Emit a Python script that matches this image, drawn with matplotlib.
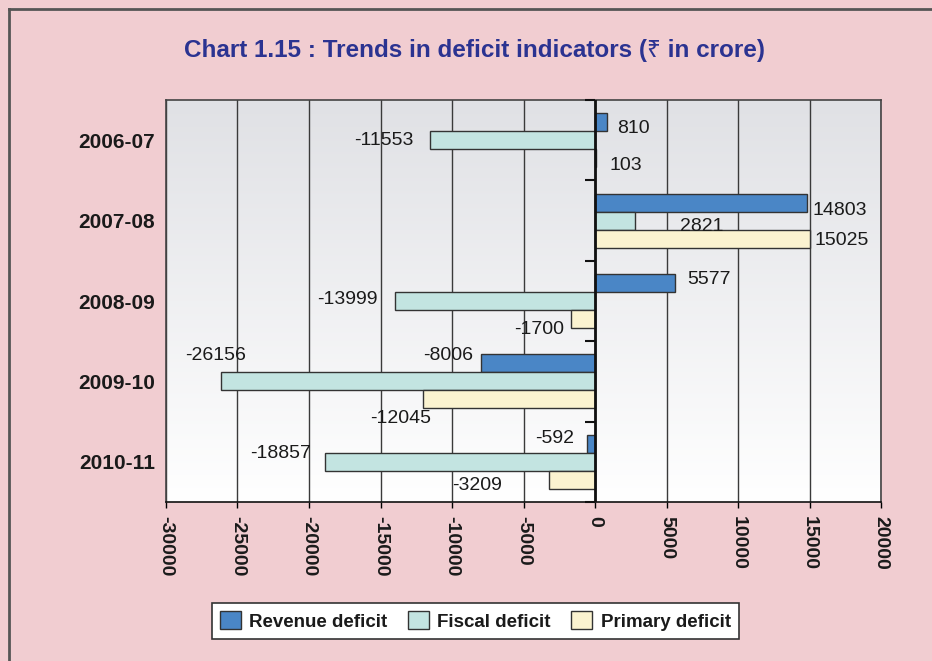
"""
Trends in deficit indicators, chart 1.15 (horizontal grouped bars).
"""

import matplotlib
import matplotlib.pyplot as plt
import numpy as np
from matplotlib.lines import Line2D

matplotlib.use("Agg")

# Data (Rs in crore)
years = ["2006-07", "2007-08", "2008-09", "2009-10", "2010-11"]
revenue_deficit = [810, 14803, 5577, -8006, -592]
fiscal_deficit = [-11553, 2821, -13999, -26156, -18857]
primary_deficit = [103, 15025, -1700, -12045, -3209]
x_ticks = list(range(-30000, 20001, 5000))

SERIES = [
    ("Revenue deficit", revenue_deficit, "#4a86c6"),
    ("Fiscal deficit", fiscal_deficit, "#c3e4e1"),
    ("Primary deficit", primary_deficit, "#fbf3d0"),
]

# label offsets in pixels (dx, dy) from the bar end, per series / year
LABEL_OFFSETS = [
    [(27, -6), (33, -8), (34, 3), (-32, 8), (-32, 5)],
    [(-46, 0), (66, -6), (-47, 2), (-5, 26), (-45, 8)],
    [(29, -7), (32, -2), (-32, -10), (-22, -19), (-72, -6)],
]

FONT = ["Liberation Sans", "Noto Sans", "DejaVu Sans"]
plt.rcParams["font.family"] = FONT

W, H = 932, 661
fig = plt.figure(figsize=(W / 100, H / 100), dpi=100)
fig.patch.set_facecolor("#f1cdd1")

# outer frame: only left and top edges show
fx, fy = 8.5 / W, 1 - 8.5 / H
fig.lines.append(Line2D([fx, fx], [0, fy], transform=fig.transFigure,
                        color="#555555", linewidth=2))
fig.lines.append(Line2D([fx, 1], [fy, fy], transform=fig.transFigure,
                        color="#555555", linewidth=2))

ax = fig.add_axes([166 / W, 1 - 502 / H, (881 - 166) / W, (502 - 100) / H])
ax.set_facecolor("white")

# gray-to-white gradient in the plot area
grad = np.linspace(0, 1, 256).reshape(-1, 1)
ax.imshow(grad, extent=[0, 1, 0, 1], transform=ax.transAxes, aspect="auto",
          cmap=matplotlib.colors.LinearSegmentedColormap.from_list(
              "g", ["#e0e1e5", "#ffffff"]), origin="upper", zorder=0)

y = np.arange(len(years))
h = 0.224
for k, (name, vals, col) in enumerate(SERIES):
    pos = y + (k - 1) * h
    ax.barh(pos, vals, height=h, color=col, edgecolor="#333333",
            linewidth=1, label=name, zorder=3)
    for i, v in enumerate(vals):
        dx, dy = LABEL_OFFSETS[k][i]
        ax.annotate(f"{v}", (v, pos[i]), xytext=(dx, dy),
                    textcoords="offset pixels", ha="center", va="center",
                    fontsize=14, color="#1a1a1a", zorder=5)

ax.set_xlim(-30000, 20000)
ax.set_ylim(len(years) - 0.5, -0.5)

ax.set_xticks(x_ticks)
ax.set_xticklabels([str(t) for t in x_ticks], rotation=-90,
                   fontsize=14, fontweight="bold", color="#1a1a1a")
ax.tick_params(axis="x", direction="out", length=4, width=1, pad=6)
ax.set_yticks(y)
ax.set_yticklabels(years, fontsize=15, fontweight="bold", color="#1a1a1a")
ax.tick_params(axis="y", length=0, pad=8)

ax.grid(axis="x", color="#3a3a3a", linewidth=1, zorder=1)
ax.set_axisbelow(True)
ax.axvline(0, color="#111111", linewidth=2, zorder=4)
# category tick marks on the zero line
ax.plot(np.zeros(len(years) + 1), np.arange(len(years) + 1) - 0.5,
        linestyle="none", marker=0, markersize=7, markeredgewidth=1.5,
        color="#111111", zorder=4, clip_on=False)

for side in ["left", "right", "top"]:
    ax.spines[side].set_color("#444444")
    ax.spines[side].set_linewidth(1.2)
ax.spines["bottom"].set_color("#111111")
ax.spines["bottom"].set_linewidth(1.2)

fig.text(475 / W, 1 - 50 / H,
         "Chart 1.15 : Trends in deficit indicators (\u20b9 in crore)",
         ha="center", va="center", fontsize=17.5, fontweight="bold",
         color="#2b3391")

leg = fig.legend(loc="center", bbox_to_anchor=(475.5 / W, 1 - 621 / H),
                 ncol=3, prop={"weight": "bold", "size": 13.5},
                 frameon=True, fancybox=False, edgecolor="#333333",
                 framealpha=1.0, handlelength=1.1, handleheight=1.1,
                 handletextpad=0.45, columnspacing=1.1, borderpad=0.45)
leg.get_frame().set_linewidth(1.2)
leg.get_frame().set_facecolor("white")
for t in leg.get_texts():
    t.set_color("#1a1a1a")

fig.savefig("out.png", dpi=100, facecolor=fig.get_facecolor())
